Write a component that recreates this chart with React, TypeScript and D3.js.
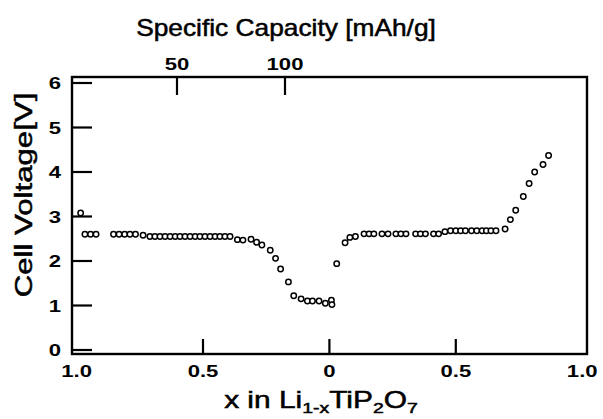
import React from "react";
import * as d3 from "d3";

// discharge: x in Li(1-x)TiP2O7 going from 1.0 down to 0 (left half)
const dischargeX = [0.984, 0.967, 0.945, 0.923, 0.854, 0.832, 0.81, 0.789, 0.767, 0.737,
  0.71, 0.69, 0.67, 0.65, 0.63, 0.61, 0.591, 0.571, 0.551, 0.531, 0.512, 0.492, 0.472, 0.452, 0.433, 0.413, 0.393,
  0.364, 0.342, 0.31, 0.288, 0.267, 0.234, 0.213, 0.193, 0.162, 0.141, 0.112, 0.087, 0.067, 0.041, 0.016];
const dischargeV = [3.08, 2.6, 2.6, 2.6, 2.6, 2.6, 2.6, 2.6, 2.6, 2.58,
  2.55, 2.55, 2.55, 2.55, 2.55, 2.55, 2.55, 2.55, 2.55, 2.55, 2.55, 2.55, 2.55, 2.55, 2.55, 2.55, 2.55,
  2.48, 2.47, 2.49, 2.42, 2.36, 2.24, 2.06, 1.82, 1.53, 1.22, 1.15, 1.1, 1.1, 1.1, 1.05];

// charge: x going from 0 back up (right half)
const chargeX = [0.008, 0.01, 0.029, 0.062, 0.081, 0.103,
  0.137, 0.157, 0.176, 0.208, 0.232, 0.263, 0.283, 0.303, 0.341, 0.36, 0.38, 0.412, 0.432,
  0.457, 0.479, 0.5, 0.519, 0.538, 0.562, 0.583, 0.604, 0.621, 0.639, 0.659,
  0.695, 0.716, 0.737, 0.767, 0.79, 0.812, 0.845, 0.867];
const chargeV = [1.12, 1.02, 1.94, 2.41, 2.53, 2.55,
  2.61, 2.61, 2.61, 2.61, 2.61, 2.61, 2.61, 2.61, 2.61, 2.61, 2.61, 2.61, 2.61,
  2.66, 2.68, 2.68, 2.68, 2.68, 2.68, 2.68, 2.68, 2.68, 2.68, 2.68,
  2.72, 2.93, 3.14, 3.45, 3.74, 4.0, 4.17, 4.37];

const voltTicks = [0, 1, 2, 3, 4, 5, 6];
const xTickMarks = [-0.5, 0, 0.5];
const xTickLabels = [-1, -0.5, 0, 0.5, 1];
const capTicks = [50, 100];

const W = 603, H = 419;
const frame = { left: 72, right: 587, top: 77, bottom: 354 };
const FONT = "'Liberation Sans', Arial, Helvetica, sans-serif";
const STRETCH = 1.3;

export default function App() {
  const x = d3.scaleLinear().domain([-1, 1]).range([76.6, 582.2]);
  const y = d3.scaleLinear().domain([0, 6]).range([350, 83]);
  const cap = d3.scaleLinear().domain([0, 100]).range([69, 285]);

  const pts = [
    ...dischargeX.map((d, i) => ({ p: -d, v: dischargeV[i] })),
    ...chargeX.map((d, i) => ({ p: d, v: chargeV[i] })),
  ];

  const fmt = (d: number) => (d === 0 ? "0" : d3.format(".1f")(Math.abs(d)));

  const tickLabel = (tx: number, ty: number, s: string, anchor: string, key: string) => (
    <g key={key} transform={`translate(${tx},${ty}) scale(${STRETCH},1)`}>
      <text textAnchor={anchor} fontFamily={FONT} fontWeight="bold" fontSize={17}>{s}</text>
    </g>
  );

  return (
    <svg width={W} height={H} style={{ position: "absolute", left: 0, top: 0, background: "#fff" }}>
      <rect x={0} y={0} width={W} height={H} fill="#fff" />
      {/* frame */}
      <rect x={frame.left} y={frame.top} width={frame.right - frame.left} height={frame.bottom - frame.top}
        fill="none" stroke="#000" strokeWidth={2.4} />

      {/* left axis ticks + labels */}
      {voltTicks.map(t => (
        <g key={"v" + t}>
          <line x1={frame.left} x2={frame.left + 20} y1={y(t)} y2={y(t)} stroke="#000" strokeWidth={2.2} />
          {tickLabel(61, y(t) + 6, String(t), "end", "vl" + t)}
        </g>
      ))}

      {/* bottom ticks */}
      {xTickMarks.map(t => (
        <line key={"xt" + t} x1={x(t)} x2={x(t)} y1={frame.bottom} y2={frame.bottom - 15} stroke="#000" strokeWidth={2.2} />
      ))}
      {xTickLabels.map(t => tickLabel(x(t), 377, fmt(t), "middle", "xl" + t))}

      {/* top axis: specific capacity */}
      {capTicks.map(t => (
        <g key={"c" + t}>
          <line x1={cap(t)} x2={cap(t)} y1={frame.top} y2={frame.top + 18} stroke="#000" strokeWidth={2.2} />
          {tickLabel(cap(t), 70, String(t), "middle", "cl" + t)}
        </g>
      ))}

      {/* titles */}
      <g transform={`translate(286,36) scale(${STRETCH * 0.88},1)`}>
        <text textAnchor="middle" fontFamily={FONT} fontSize={23} stroke="#000" strokeWidth={0.5}>Specific Capacity [mAh/g]</text>
      </g>
      <g transform={`translate(321,408) scale(${STRETCH},1)`}>
        <text textAnchor="middle" fontFamily={FONT} fontSize={23} stroke="#000" strokeWidth={0.5}>
          x in Li<tspan fontSize={15} dy={5}>1-x</tspan><tspan dy={-5}>TiP</tspan>
          <tspan fontSize={15} dy={5}>2</tspan><tspan dy={-5}>O</tspan><tspan fontSize={15} dy={5}>7</tspan>
        </text>
      </g>
      <g transform={`translate(32,195) rotate(-90) scale(${STRETCH},1)`}>
        <text textAnchor="middle" fontFamily={FONT} fontSize={24} stroke="#000" strokeWidth={0.5}>Cell Voltage[V]</text>
      </g>

      {/* data */}
      {pts.map((d, i) => (
        <circle key={i} cx={x(d.p)} cy={y(d.v)} r={2.7} fill="#fff" stroke="#000" strokeWidth={1.5} />
      ))}
    </svg>
  );
}
